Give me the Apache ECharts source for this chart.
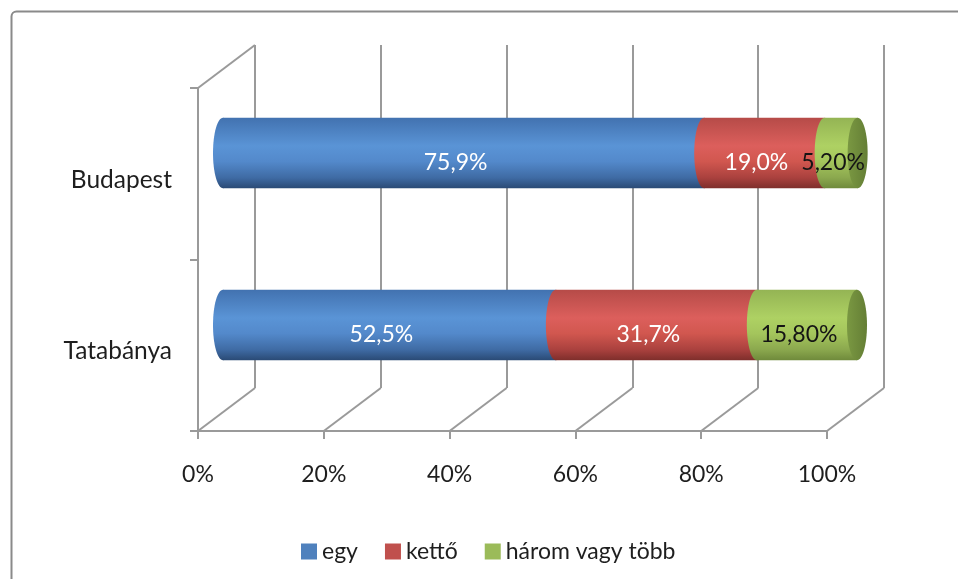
<!DOCTYPE html>
<html><head><meta charset="utf-8">
<script src="https://cdn.jsdelivr.net/npm/echarts@6/dist/echarts.min.js"></script>
<style>html,body{margin:0;padding:0;background:#fff}#c{width:958px;height:579px}</style>
</head><body><div id="c"></div>
<script>
// ---- data ----
const cities = ['Tatabánya', 'Budapest'];
const seriesNames = ['egy', 'kettő', 'három vagy több'];
const egy = [52.5, 75.9];
const ketto = [31.7, 19.0];
const harom = [15.8, 5.2];
const labelDecimals = [1, 1, 2];
const xTicks = [0, 20, 40, 60, 80, 100];

// ---- styles ----
const values = [egy, ketto, harom];
const FONT = 'Lato';
const TXT = '#1e1e1e';
const WALL = '#9a9a9a';
const DX = 57, DY = 43;
const legendColors = ['#4F81BD', '#C0504D', '#9BBB59'];
const labelColors = ['#ffffff', '#ffffff', '#141414'];
const gradStops = [
  [['#4272B0',0],['#5A94D6',0.4],['#5389CB',0.62],['#3F6BA4',0.85],['#2A4A75',1]],
  [['#B64B48',0],['#DC5F5C',0.4],['#D1574F',0.62],['#AA413E',0.85],['#7E2E2B',1]],
  [['#94B454',0],['#AED163',0.4],['#A4C55C',0.62],['#8BA84E',0.85],['#6F8A3B',1]]
];
function grad(s) {
  return new echarts.graphic.LinearGradient(0, 0, 0, 1,
    gradStops[s].map(a => ({color: a[0], offset: a[1]})));
}
function endGrad() {
  return new echarts.graphic.LinearGradient(0, 0, 1, 0, [
    {offset: 0, color: '#7A9842'}, {offset: 1, color: '#647E35'}]);
}
function fmt(v, s) { return v.toFixed(labelDecimals[s]).replace('.', ',') + '%'; }

// stacked data
const seriesData = values.map((arr, s) => arr.map((v, i) => {
  let start = 0;
  for (let k = 0; k < s; k++) start += values[k][i];
  return [i, start, start + v, v];
}));

function barRender(s) {
  return function (params, api) {
    const cat = api.value(0);
    const p0 = api.coord([api.value(1), cat]);
    const p1 = api.coord([api.value(2), cat]);
    const h = api.size([0, 1])[1] * 0.41;
    const rx = 10, ry = h / 2, cy = p0[1];
    const children = [
      {type: 'rect', shape: {x: p0[0], y: cy - ry, width: p1[0] - p0[0], height: h}, style: {fill: grad(s)}},
      {type: 'ellipse', shape: {cx: p0[0], cy: cy, rx: rx, ry: ry}, style: {fill: grad(s)}}
    ];
    if (s === values.length - 1) {
      children.push({type: 'ellipse', shape: {cx: p1[0], cy: cy, rx: rx, ry: ry}, style: {fill: endGrad()}});
    }
    children.push({type: 'text', z2: 10, style: {
      text: fmt(api.value(3), s), x: (p0[0] + p1[0]) / 2 - 8, y: cy + 10,
      align: 'center', verticalAlign: 'middle', fill: labelColors[s],
      font: '23px ' + FONT}});
    return {type: 'group', children: children};
  };
}

function wallRender(params, api) {
  const v = api.value(0);
  const p = api.coord([v, 0]);
  const band = api.size([0, 1])[1];
  const fy = p[1] + band / 2;
  const ls = {stroke: WALL, lineWidth: 2};
  const children = [{type: 'line', shape: {x1: p[0], y1: fy, x2: p[0] + DX, y2: fy - DY}, style: ls}];
  if (v === xTicks[0]) {
    const ty = fy - band * cities.length;
    children.push({type: 'line', shape: {x1: p[0], y1: ty, x2: p[0] + DX, y2: ty - DY}, style: ls});
  }
  return {type: 'group', children: children};
}

const chart = echarts.init(document.getElementById('c'), null, {renderer: 'canvas'});
const option = {
  animation: false,
  backgroundColor: '#fff',
  textStyle: {fontFamily: FONT},
  graphic: [{type: 'rect', left: 9, top: 9, shape: {width: 1000, height: 1000, r: 5},
    style: {fill: 'none', stroke: '#8a8a8a', lineWidth: 2}}],
  legend: {
    data: seriesNames, left: 296, top: 535, itemWidth: 16, itemHeight: 16, itemGap: 27,
    icon: 'rect', textStyle: {fontSize: 23, fontFamily: FONT, color: TXT}
  },
  grid: [
    {left: 198, width: 629, top: 88, height: 343, outerBoundsMode: 'none', containLabel: false},
    {left: 223, width: 634, top: 67, height: 344, outerBoundsMode: 'none', containLabel: false},
    {left: 255, width: 629, top: 45, height: 343, outerBoundsMode: 'none', containLabel: false}
  ],
  xAxis: [
    {gridIndex: 0, type: 'value', min: 0, max: 100, interval: 20,
      axisLine: {show: true, lineStyle: {color: WALL, width: 2}},
      axisTick: {show: true, length: 8, lineStyle: {color: WALL, width: 2}},
      splitLine: {show: false},
      axisLabel: {margin: 32, fontSize: 23, fontFamily: FONT, color: TXT, formatter: v => v + '%'}},
    {gridIndex: 1, type: 'value', min: 0, max: 100, show: false},
    {gridIndex: 2, type: 'value', min: 0, max: 100, interval: 20,
      axisLine: {show: false}, axisTick: {show: false}, axisLabel: {show: false},
      splitLine: {show: true, lineStyle: {color: WALL, width: 2}}}
  ],
  yAxis: [
    {gridIndex: 0, type: 'category', data: cities,
      axisLine: {show: true, lineStyle: {color: WALL, width: 2}},
      axisTick: {show: true, length: 8, lineStyle: {color: WALL, width: 2}},
      axisLabel: {margin: 26, color: TXT, formatter: v => '{a|' + v + '}',
        rich: {a: {fontSize: 24.5, fontFamily: FONT, color: TXT, padding: [12, 0, 0, 0]}}}},
    {gridIndex: 1, type: 'category', data: cities, show: false},
    {gridIndex: 2, type: 'value', min: 0, max: 1, show: false, splitLine: {show: false}}
  ],
  series: [
    {type: 'custom', name: 'walls', xAxisIndex: 0, yAxisIndex: 0, z: 1, silent: true,
      renderItem: wallRender, data: xTicks.map(v => [v, 0]), encode: {x: 0, y: 1}}
  ].concat(seriesNames.map((name, s) => ({
    type: 'custom', name: name, xAxisIndex: 1, yAxisIndex: 1, z: 3 + s,
    itemStyle: {color: legendColors[s]},
    renderItem: barRender(s), data: seriesData[s], encode: {x: [1, 2], y: 0}
  })))
};
chart.setOption(option);
</script>
</body></html>
